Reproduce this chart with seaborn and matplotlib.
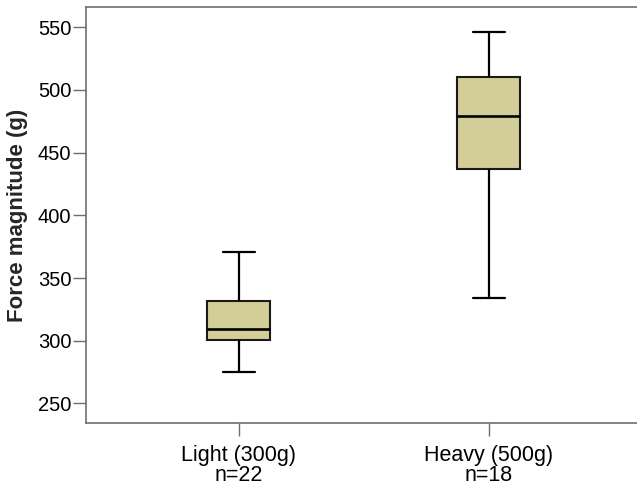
import matplotlib
matplotlib.use('Agg')
import matplotlib.pyplot as plt
import seaborn as sns
import numpy as np
import pandas as pd

# five-number summaries: min, Q1, median, Q3, max
groups = [
    'Light (300g)\nn=22',
    'Heavy (500g)\nn=18'
]

light_summary = [275, 301, 309, 332, 371]
heavy_summary = [334, 437, 479, 510, 546]

y_ticks = [250, 300, 350, 400, 450, 500, 550]

df = pd.DataFrame({
    'group': [groups[0]] * len(light_summary) + [groups[1]] * len(heavy_summary),
    'force': light_summary + heavy_summary
})

sns.set_style('white')
plt.rcParams['font.family'] = ['Liberation Sans', 'DejaVu Sans']

fig = plt.figure(
    figsize=(6.37, 4.86),
    dpi=100
)

ax = fig.add_axes([0.135, 0.129, 0.865, 0.8575])

# whiskers reach min/max, box at Q1..Q3
sns.boxplot(
    data=df,
    x='group',
    y='force',
    order=groups,
    ax=ax,
    width=0.252,
    whis=(0, 100),
    color='#d3ce97',
    saturation=1,
    linecolor='black',
    linewidth=1.5,
    boxprops={'edgecolor': '#1a1a1a'},
    medianprops={'color': 'black', 'linewidth': 1.9},
    whiskerprops={'color': 'black', 'linewidth': 1.6},
    capprops={'color': 'black', 'linewidth': 1.6},
    showfliers=False
)

ax.set_xlim(-0.612, 1.592)
ax.set_ylim(234.2, 566.4)
ax.set_yticks(y_ticks)

ax.set_xlabel('')
ax.set_ylabel(
    'Force magnitude (g)',
    fontsize=16,
    fontweight='bold',
    labelpad=7
)

ax.tick_params(
    axis='y',
    labelsize=14.5,
    colors='#6e6e6e',
    labelcolor='black',
    length=9.5,
    width=1,
    pad=1,
    direction='out',
    left=True
)

ax.tick_params(
    axis='x',
    labelsize=15.5,
    colors='#6e6e6e',
    labelcolor='black',
    length=9,
    width=1,
    pad=6.5,
    direction='out',
    bottom=True
)

for side in ['left', 'bottom', 'top']:
    ax.spines[side].set_color('#6e6e6e')
    ax.spines[side].set_linewidth(1.2)
    ax.spines[side].set_visible(True)

ax.spines['right'].set_visible(False)

for lbl in ax.get_xticklabels():
    lbl.set_linespacing(0.92)

plt.savefig('out.png', dpi=100)
plt.close()
